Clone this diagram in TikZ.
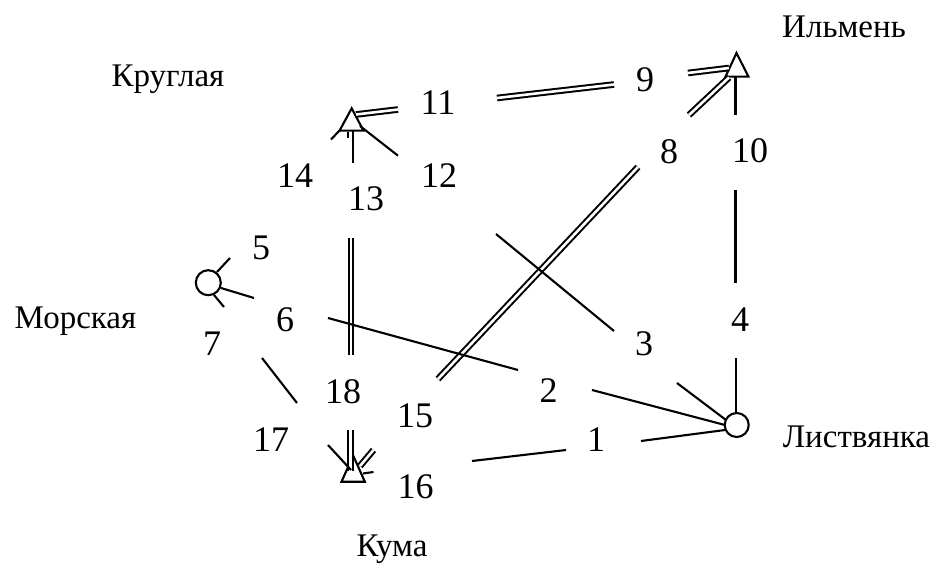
\documentclass[tikz,border=0pt]{standalone}
\usepackage{fontspec}
\setmainfont{Liberation Serif}
\newfontfamily\tnr{Liberation Serif}
\usetikzlibrary{calc}
\tikzset{
  ln/.style={line width=2.1pt, line cap=butt},
  dbl/.style={line width=2pt, double, double distance=2.6pt, line cap=butt},
  num/.style={font=\tnr\fontsize{36}{40}\selectfont, inner sep=0pt, anchor=base},
  stn/.style={font=\tnr\fontsize{33}{38}\selectfont, inner sep=0pt, anchor=base},
  stmark/.style={line width=2.1pt, line join=miter},
}
\newcommand\seg[4][ln]{\coordinate (#2a) at (#3); \coordinate (#2b) at (#4); \draw[#1] (#2a) -- (#2b);}
\begin{document}
\begin{tikzpicture}[x=1pt,y=-1pt]
\useasboundingbox (0,0) rectangle (937,575);
% stations
\node[circle, draw, line width=2.1pt, minimum size=25pt, inner sep=0pt] (mor) at (208.3,282.7) {};
\node[circle, draw, line width=2.1pt, minimum size=24pt, inner sep=0pt] (lst) at (736.7,425) {};
\coordinate (kra) at (351.7,108.3); \coordinate (krl) at (339.5,130.7); \coordinate (krr) at (363.5,130.7);
\draw[stmark] (kra) -- (krl) -- (krr) -- cycle;
\coordinate (ila) at (736.5,53); \coordinate (ill) at (725.5,76.7); \coordinate (ilr) at (748.5,76.7);
\draw[stmark] (ila) -- (ill) -- (ilr) -- cycle;
\coordinate (kua) at (353.2,455.5); \coordinate (kul) at (341.5,481.7); \coordinate (kur) at (364.8,481.7);
\draw[stmark] (kua) -- (kul) -- (kur) -- cycle;
% station names
\node[stn] (tkr) at (168,87) {Круглая};
\node[stn] (til) at (844,38) {Ильмень};
\node[stn] (tmo) at (75.5,328) {Морская};
\node[stn] (tls) at (856.5,447) {Листвянка};
\node[stn] (tku) at (392,556) {Кума};
% double lines
\seg[dbl]{da}{497,98}{614,84.5}
\seg[dbl]{db}{356,114.5}{398,109.5}
\seg[dbl]{dc}{688,73}{729,68}
\seg[dbl]{dd}{689,115}{729,77.5}
\seg[dbl]{de}{638,167}{438,379}
\seg[dbl]{df}{350.8,238}{350.8,355}
\seg[dbl]{dg}{350.5,430}{350.5,471}
\seg[dbl]{dh}{373.5,450}{360,466}
% single lines
\seg{sa}{348,132.5}{348,138.5}
\seg{sb}{339.5,130.5}{331,139.5}
\seg{sc}{360,126}{398,155.7}
\seg{sd}{353.3,131}{353.3,163.3}
\seg{se}{496,234}{614,331}
\seg{sf}{328,318}{518,370}
\seg{sg}{592,390}{725,425}
\seg{sh}{677,383}{726,420}
\seg{si}{735.7,358}{735.7,413}
\seg{sj}{735.5,190}{735.5,283}
\seg{sk}{735.5,77}{735.5,115}
\seg{sl}{641,441}{725,430}
\seg{sm}{472,461}{566,450}
\seg{sn}{217,272}{230,258}
\seg{so}{221,288}{254,298}
\seg{sp}{214,295}{224,307}
\seg{sq}{262,358}{297,403}
\seg{sr}{328,445}{351,470}
\seg{ss}{373.5,472}{363,473.5}
% numbers
\node[num] (n1) at (596,451) {1};
\node[num] (n2) at (548.5,402) {2};
\node[num] (n3) at (644,355) {3};
\node[num] (n4) at (740,331) {4};
\node[num] (n5) at (261,259) {5};
\node[num] (n6) at (285,331) {6};
\node[num] (n7) at (212,355) {7};
\node[num] (n8) at (669,164) {8};
\node[num] (n9) at (645,92) {9};
\node[num] (n10) at (750,163) {10};
\node[num] (n11) at (438,115) {11};
\node[num] (n12) at (439,187) {12};
\node[num] (n13) at (366,210) {13};
\node[num] (n14) at (295,187) {14};
\node[num] (n15) at (415,427) {15};
\node[num] (n16) at (415.5,498) {16};
\node[num] (n17) at (271,451) {17};
\node[num] (n18) at (343,403) {18};
\end{tikzpicture}
\end{document}
